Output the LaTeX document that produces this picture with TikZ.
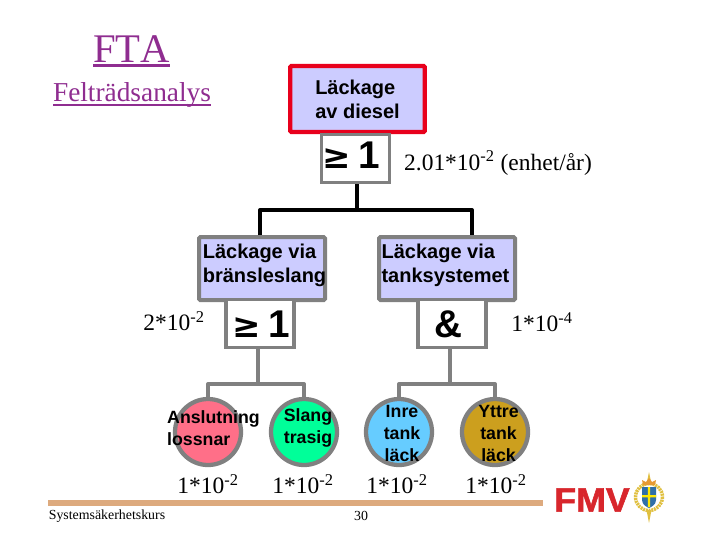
\documentclass[tikz,border=0pt]{standalone}
\usepackage{fontspec}
\setmainfont{Liberation Serif}
\setsansfont{Liberation Sans}
\newfontfamily\nokern[Kerning=Off]{Liberation Serif}
\newfontfamily\symfont{DejaVu Sans}
\newfontfamily\heavyfont[FakeBold=1.6]{Liberation Sans Bold}
\newcommand{\pxfont}[2]{\fontsize{#1}{#2}\selectfont}
\newcommand{\geqsym}{{\symfont\bfseries\fontsize{25.5}{30}\selectfont ≥}}
\newsavebox{\ulbox}
\newcommand{\thickul}[3]{\sbox{\ulbox}{#1}\leavevmode\rlap{\rule[#2]{\wd\ulbox}{#3}}\usebox{\ulbox}}
\definecolor{purp}{HTML}{8F2D90}
\definecolor{lav}{HTML}{CCCCFF}
\definecolor{gry}{HTML}{808080}
\definecolor{redb}{HTML}{E8001C}
\definecolor{tanb}{HTML}{DDAA7E}
\definecolor{fmvred}{HTML}{D8262C}
\definecolor{gold}{HTML}{E0C040}
\definecolor{shld}{HTML}{2F6FA8}
\definecolor{cpink}{HTML}{FF6F88}
\definecolor{cgreen}{HTML}{00FF99}
\definecolor{cblue}{HTML}{66CCFF}
\definecolor{cgold}{HTML}{CC9F1E}
\tikzset{
 x=0.75pt,y=-0.75pt,
 evbox/.style={draw=gry,line width=3pt,fill=lav,rounded corners=1pt,inner sep=0pt},
 gatebox/.style={draw=gry,line width=2.6pt,fill=white,inner sep=0pt,minimum width=51pt,minimum height=36pt},
 basic/.style={circle,draw=gry,line width=3.2pt,inner sep=0pt,minimum size=49.5pt},
 boxtext/.style={font=\sffamily\bfseries\pxfont{15}{18},align=left,inner sep=0pt,text=black},
 circtext/.style={font=\sffamily\bfseries\pxfont{13.3}{16.5},align=center,inner sep=0pt,text=black},
 gatetext/.style={font=\sffamily\bfseries\pxfont{29}{30},inner sep=0pt,anchor=base},
 prob/.style={font=\pxfont{17.6}{20},inner sep=0pt},
 blackline/.style={line width=3pt,black},
 greyline/.style={line width=3pt,gry},
}
\begin{document}
\begin{tikzpicture}
\useasboundingbox (0,0) rectangle (720,540);
\fill[white] (0,0) rectangle (720,540);
% titles
\node (t1) at (131.5,51.5) [text=purp,font=\nokern\pxfont{30.5}{32},inner sep=0pt] {\thickul{FTA}{-3pt}{2.2pt}};
\node (t2) at (132,95) [text=purp,font=\nokern\pxfont{20.5}{24},inner sep=0pt] {\thickul{Felträdsanalys}{-3.2pt}{1.6pt}};
% junctions
\coordinate (j0) at (357,210);
\coordinate (jl) at (260,210);
\coordinate (jr) at (472,210);
\coordinate (j1) at (258,384);
\coordinate (j2) at (450,384);
% basic events
\node (c1) at (208,432) [basic,fill=cpink] {};
\node (c2) at (304,432) [basic,fill=cgreen] {};
\node (c3) at (399,432) [basic,fill=cblue] {};
\node (c4) at (495,432) [basic,fill=cgold] {};
% boxes
\node (top) at (357.5,99) [draw=redb,line width=3.2pt,fill=lav,rounded corners=1pt,minimum width=101pt,minimum height=49.5pt,inner sep=0pt] {};
\node (g0) at (355.5,158.5) [gatebox] {};
\node (b1) at (262,268.5) [evbox,minimum width=94.5pt,minimum height=47.25pt] {};
\node (b2) at (447,268.5) [evbox,minimum width=102pt,minimum height=47.25pt] {};
\node (g1) at (260,323.5) [gatebox] {};
\node (g2) at (452,323.5) [gatebox] {};
% connectors
\draw[blackline] (g0.south -| j0) -- (j0);
\draw[blackline,line join=round] (jl |- b1.north) -- (jl) -- (jr) -- (jr |- b2.north);
\draw[greyline] (g1.south -| j1) -- (j1);
\draw[greyline] (g2.south -| j2) -- (j2);
\draw[greyline,line join=round] (c1.north) |- (j1) -| (c2.north);
\draw[greyline,line join=round] (c3.north) |- (j2) -| (c4.north);
% texts
\node (tt) at (357.5,99) [boxtext] {Läckage\\av diesel};
\node (g0t) at (351,168) [gatetext] {\geqsym\hspace{6pt}1};
\node (b1t) at (264.5,265) [boxtext] {Läckage via\\bränsleslang};
\node (b2t) at (445.5,265) [boxtext] {Läckage via\\tanksystemet};
\node (g1t) at (261,337) [gatetext] {\geqsym\hspace{6pt}1};
\node (g2t) at (448,337) [gatetext] {\&};
\node (c1t) at (213.5,428) [circtext,align=left] {Anslutning\\lossnar};
\node (c2t) at (308,428) [circtext] {Slang\\trasig};
\node (c3t) at (402,433) [circtext] {Inre\\tank\\läck};
\node (c4t) at (498.5,433) [circtext] {Yttre\\tank\\läck};
% probabilities
\node (p0) at (498,163) [prob] {2.01*10\textsuperscript{-2} (enhet/år)};
\node (p1) at (174,321) [prob] {2*10\textsuperscript{-2}};
\node (p2) at (542,322) [prob] {1*10\textsuperscript{-4}};
\node (q1) at (208,484) [prob] {1*10\textsuperscript{-2}};
\node (q2) at (303,484) [prob] {1*10\textsuperscript{-2}};
\node (q3) at (397,484) [prob] {1*10\textsuperscript{-2}};
\node (q4) at (496,484) [prob] {1*10\textsuperscript{-2}};
% footer
\fill[tanb] (48,500) rectangle (543,506);
\node (f1) at (107,516) [font=\pxfont{10.4}{12},inner sep=0pt] {Systemsäkerhetskurs};
\node (f2) at (361,516) [font=\pxfont{10.4}{12},inner sep=0pt] {30};
% logo
\node (fmv) at (592,500) [text=fmvred,font=\heavyfont\pxfont{25.5}{26},inner sep=0pt,xscale=1.05] {FMV};
\draw[gold,line width=2.6pt,dash pattern=on 1.5pt off 0.6pt] (649,497) circle (13.5);
\fill[gold] (649,472) -- (651.5,484) -- (646.5,484) -- cycle;
\fill[gold] (649,523) -- (651.5,510) -- (646.5,510) -- cycle;
\fill[gold!80!red] (643,485) -- (655,485) -- (656,480) -- (652,482) -- (649,478) -- (646,482) -- (642,480) -- cycle;
\fill[shld] (642,487) -- (656,487) -- (656,500) .. controls (656,505) and (651,507) .. (649,508) .. controls (647,507) and (642,505) .. (642,500) -- cycle;
\fill[yellow!90!orange] (647.8,487) rectangle (650.2,507) (642,495) rectangle (656,497.4);
\end{tikzpicture}
\end{document}
